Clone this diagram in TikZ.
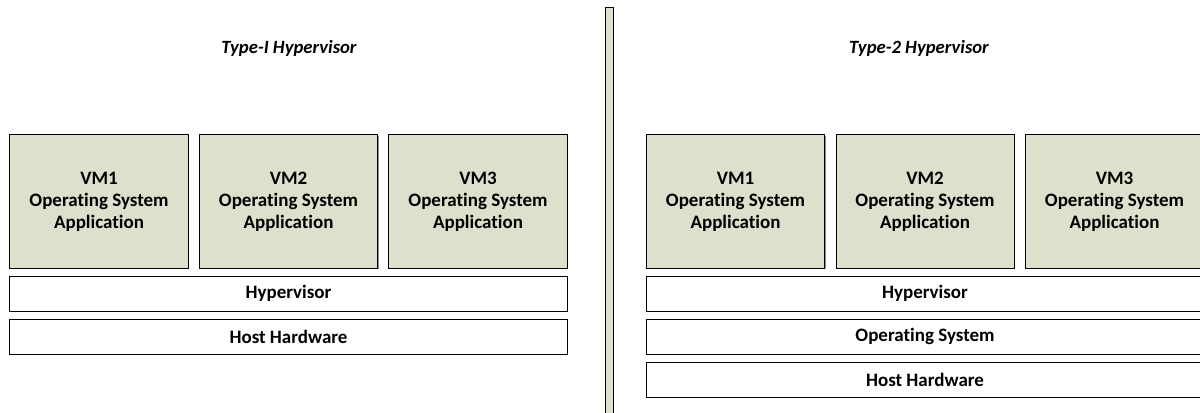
\documentclass[tikz,border=0pt]{standalone}
\usepackage{fontspec}
\setmainfont[Ligatures={NoCommon,TeX}]{Carlito}
\usetikzlibrary{shadows}
\definecolor{vmgreen}{RGB}{221,224,204}
\tikzset{
  layer/.style={draw=black,line width=0.7pt,inner sep=0pt,outer sep=0pt,
    font=\fontsize{13.5}{15.6}\selectfont\bfseries,align=center,
    drop shadow={shadow xshift=0.9pt,shadow yshift=-0.9pt,fill=black!45,opacity=1}},
  vmbox/.style={layer,fill=vmgreen,minimum width=4.45cm,minimum height=3.325cm},
  widebox/.style={layer,fill=white,minimum width=13.925cm,minimum height=0.875cm},
  title/.style={font=\fontsize{13.3}{16}\selectfont\bfseries\itshape}
}
\begin{document}
\begin{tikzpicture}[x=0.025cm,y=-0.025cm]
  \useasboundingbox (0,0) rectangle (1200,413);
  % Left-hand side part of the Figure
  \node[title]   (t1)   at (289,48) {Type-I Hypervisor};
  \node[vmbox]   (vm1a) at (99,201.5)  {VM1\\Operating System\\Application};
  \node[vmbox]   (vm2a) at (288.5,201.5) {VM2\\Operating System\\Application};
  \node[vmbox]   (vm3a) at (478,201.5) {VM3\\Operating System\\Application};
  \node[widebox] (hypa) at (288.5,293.5) {Hypervisor};
  \node[widebox] (hwa)  at (288.5,336.5) {Host Hardware};
  % divider
  \draw[line width=0.7pt,fill=vmgreen,drop shadow={shadow xshift=0.9pt,shadow yshift=-0.9pt,fill=black!45,opacity=1}]
    (605,7) rectangle (613,425);
  % Right-hand side part of the Figure
  \node[title]   (t2)   at (919,48) {Type-2 Hypervisor};
  \node[vmbox]   (vm1b) at (735.5,201.5) {VM1\\Operating System\\Application};
  \node[vmbox]   (vm2b) at (925,201.5) {VM2\\Operating System\\Application};
  \node[vmbox]   (vm3b) at (1114.5,201.5) {VM3\\Operating System\\Application};
  \node[widebox] (hypb) at (925,293.5) {Hypervisor};
  \node[widebox] (osb)  at (925,336.5) {Operating System};
  \node[widebox] (hwb)  at (925,379.5) {Host Hardware};
\end{tikzpicture}
\end{document}
